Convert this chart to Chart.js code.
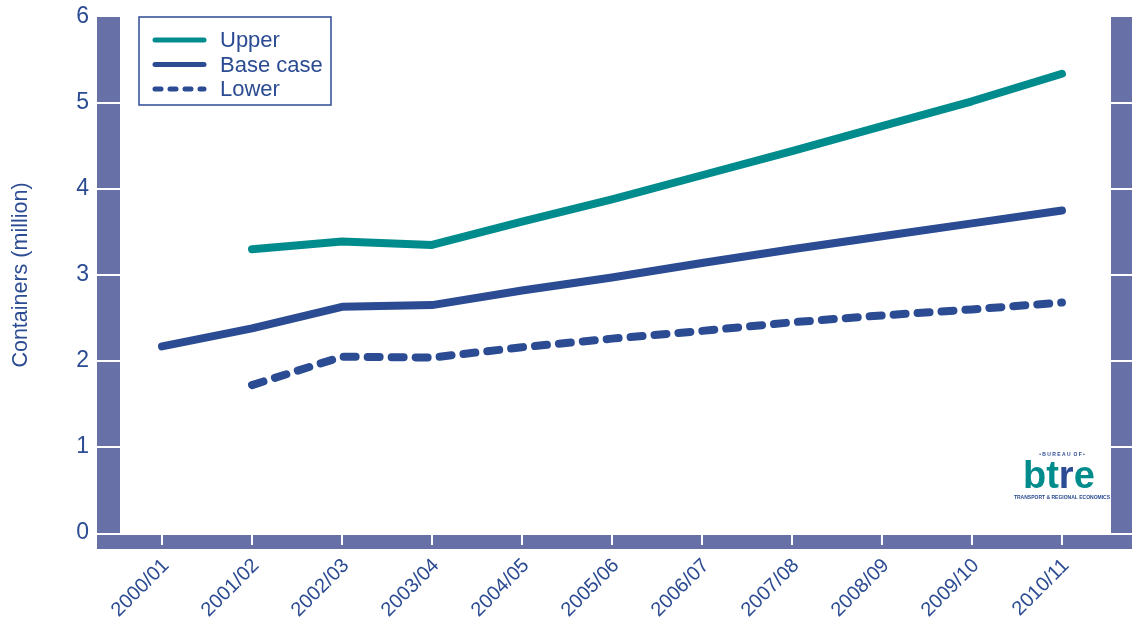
<!DOCTYPE html>
<html>
<head>
  <title>Container forecasts</title>
  <script src="https://cdn.jsdelivr.net/npm/chart.js"></script>
  <style>
    html, body { margin: 0; padding: 0; background: #fff; }
    #wrap { width: 1132px; height: 623px; }
  </style>
</head>
<body>
<div id="wrap"><canvas id="chart" width="1132" height="623"></canvas></div>
<script>
const years = ["2000/01","2001/02","2002/03","2003/04","2004/05","2005/06","2006/07","2007/08","2008/09","2009/10","2010/11"];
const upper = [null, 3.30, 3.39, 3.35, 3.62, 3.88, 4.16, 4.44, 4.73, 5.02, 5.34];
const baseCase = [2.17, 2.38, 2.63, 2.65, 2.82, 2.97, 3.14, 3.30, 3.45, 3.60, 3.75];
const lower = [null, 1.72, 2.05, 2.04, 2.16, 2.26, 2.35, 2.45, 2.53, 2.60, 2.68];
const yTicks = [0, 1, 2, 3, 4, 5, 6];

const navy = "#2b4b92";
const teal = "#008c8c";
const band = "#6870a8";
const font = "'Liberation Sans', Arial, sans-serif";

const toPoints = arr => arr.map((v, i) => ({ x: i, y: v }));

// frame bands round the plot, with white tick notches
const framePlugin = {
  id: "frame",
  beforeDatasetsDraw(chart) {
    const ctx = chart.ctx;
    const a = chart.chartArea;
    const x = chart.scales.x, y = chart.scales.y;
    ctx.save();
    ctx.fillStyle = band;
    ctx.fillRect(a.left - 23, a.top, 23, a.bottom - a.top);
    ctx.fillRect(a.right, a.top, chart.width - a.right, a.bottom - a.top);
    ctx.fillRect(a.left - 23, a.bottom + 2, chart.width - a.left + 23, 14);
    ctx.strokeStyle = "#fff";
    ctx.lineWidth = 2;
    yTicks.forEach(v => {
      if (v === 0 || v === 6) return;
      const py = y.getPixelForValue(v);
      ctx.beginPath();
      ctx.moveTo(a.left - 23, py); ctx.lineTo(a.left, py);
      ctx.moveTo(a.right, py); ctx.lineTo(chart.width, py);
      ctx.stroke();
    });
    years.forEach((_, i) => {
      const px = x.getPixelForValue(i);
      ctx.beginPath();
      ctx.moveTo(px, a.bottom + 2); ctx.lineTo(px, a.bottom + 12);
      ctx.stroke();
    });
    ctx.restore();
  },
  afterDatasetsDraw(chart) {
    const ctx = chart.ctx;
    ctx.save();
    // legend box
    ctx.fillStyle = "#fff";
    ctx.fillRect(139, 17, 192, 88);
    ctx.strokeStyle = navy;
    ctx.lineWidth = 1.5;
    ctx.strokeRect(139, 17, 192, 88);
    chart.data.datasets.forEach((ds, i) => {
      const ly = 40 + i * 24.5;
      ctx.beginPath();
      ctx.strokeStyle = ds.borderColor;
      ctx.lineWidth = 5;
      ctx.lineCap = "round";
      ctx.setLineDash(ds.borderDash ? [6, 9] : []);
      ctx.moveTo(155, ly); ctx.lineTo(204, ly);
      ctx.stroke();
      ctx.setLineDash([]);
      ctx.fillStyle = navy;
      ctx.font = "22px " + font;
      ctx.textBaseline = "middle";
      ctx.fillText(ds.label, 220, ly + 1);
    });
    // btre logo
    ctx.textBaseline = "alphabetic";
    ctx.font = "bold 38px " + font;
    let lx = 1023;
    [["b", teal], ["t", teal], ["r", navy], ["e", teal]].forEach(([c, col]) => {
      ctx.fillStyle = col;
      ctx.fillText(c, lx, 488);
      lx += ctx.measureText(c).width;
    });
    ctx.font = "bold 5px " + font;
    ctx.fillStyle = navy;
    ctx.textAlign = "center";
    ctx.fillText("• B U R E A U  O F •", 1062, 456);
    ctx.fillText("TRANSPORT & REGIONAL ECONOMICS", 1062, 499);
    ctx.restore();
  }
};

new Chart(document.getElementById("chart"), {
  type: "line",
  data: {
    datasets: [
      { label: "Upper", data: toPoints(upper), borderColor: teal, borderWidth: 8, borderCapStyle: "round", borderJoinStyle: "round", pointRadius: 0, tension: 0 },
      { label: "Base case", data: toPoints(baseCase), borderColor: navy, borderWidth: 8, borderCapStyle: "round", borderJoinStyle: "round", pointRadius: 0, tension: 0 },
      { label: "Lower", data: toPoints(lower), borderColor: navy, borderWidth: 8, borderCapStyle: "round", borderJoinStyle: "round", borderDash: [12, 12], pointRadius: 0, tension: 0 }
    ]
  },
  options: {
    responsive: false,
    animation: false,
    layout: { padding: { top: 17, right: 21, left: 0, bottom: 0 } },
    plugins: { legend: { display: false }, tooltip: { enabled: false } },
    scales: {
      x: {
        type: "linear",
        min: -0.467, max: 10.545,
        afterBuildTicks: s => { s.ticks = years.map((_, i) => ({ value: i })); },
        grid: { display: false, drawTicks: false },
        border: { display: false },
        ticks: { color: navy, font: { family: font, size: 20 }, maxRotation: 45, minRotation: 45, padding: 21, labelOffset: 4, autoSkip: false, callback: v => years[v] },
        afterFit: s => { s.height = 90; s.paddingLeft = 0; s.paddingRight = 0; }
      },
      y: {
        min: 0, max: 6,
        afterBuildTicks: s => { s.ticks = yTicks.map(v => ({ value: v })); },
        grid: { display: false, drawTicks: false },
        border: { display: false },
        ticks: { color: navy, font: { family: font, size: 23 }, padding: 31 },
        title: { display: true, text: "Containers (million)", color: navy, font: { family: font, size: 21.5 }, padding: { top: 8, bottom: 0 } },
        afterFit: s => { s.width = 120; s.paddingTop = 0; s.paddingBottom = 0; }
      }
    }
  },
  plugins: [framePlugin]
});
</script>
</body>
</html>
